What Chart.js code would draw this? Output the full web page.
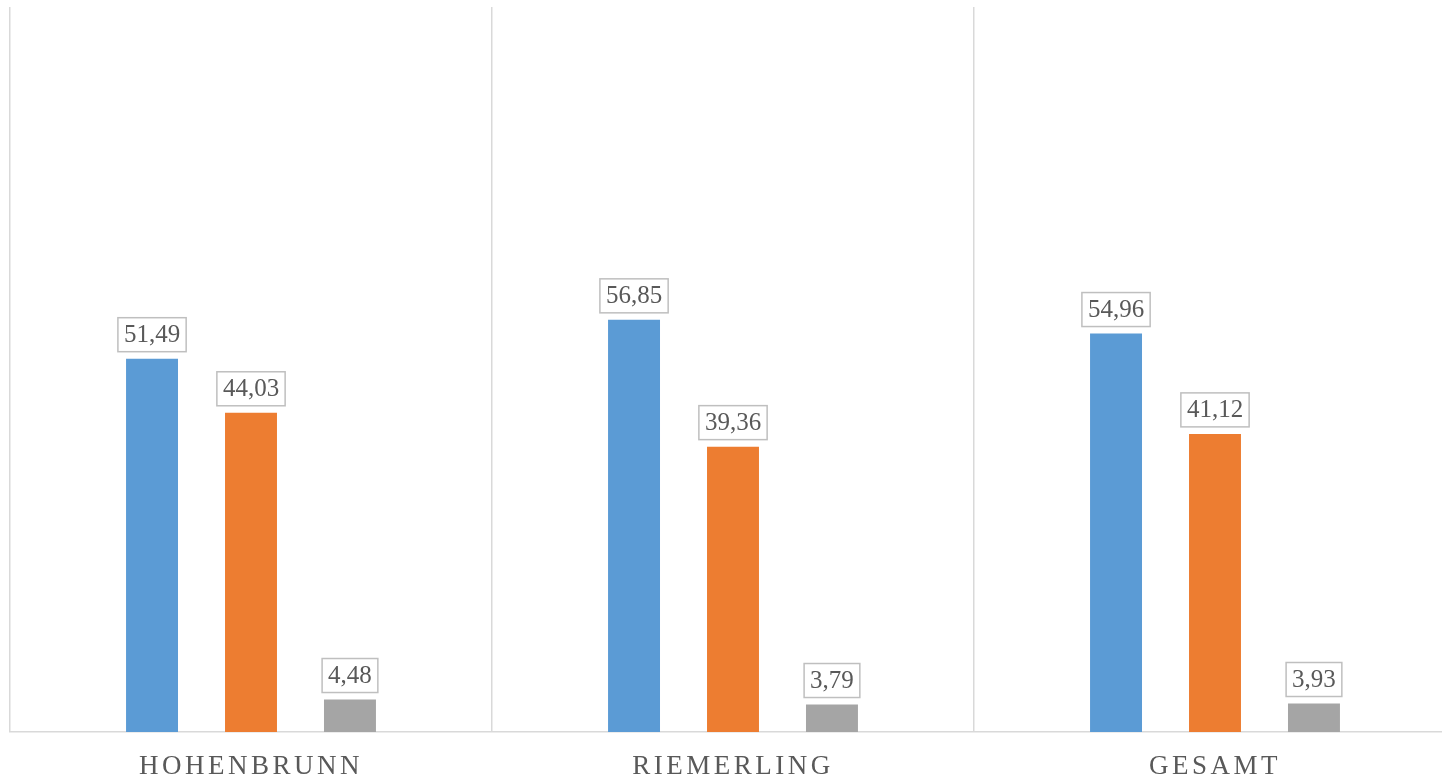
<!DOCTYPE html>
<html lang="de">
<head>
    <meta charset="UTF-8">
    <title>Ortsteile</title>
    <style>
        body {
            margin: 0;
            padding: 0;
            background: #fff;
            overflow: hidden;
        }
        .wrap {
            width: 1460px;
            height: 782px;
        }
    </style>
</head>
<body>
    <div class="wrap">
        <canvas id="barChart" width="1460" height="782"></canvas>
    </div>

    <script src="https://cdn.jsdelivr.net/npm/chart.js"></script>
    <script>
        // data
        const categories = ['HOHENBRUNN', 'RIEMERLING', 'GESAMT'];
        const seriesNames = ['Reihe 1', 'Reihe 2', 'Reihe 3'];
        const blueValues = [51.49, 56.85, 54.96];
        const orangeValues = [44.03, 39.36, 41.12];
        const grayValues = [4.48, 3.79, 3.93];

        const textColor = '#595959';
        const lineColor = '#d9d9d9';
        const serif = '"Liberation Serif", "Times New Roman", serif';

        // boxed value labels above each bar
        const boxLabels = {
            id: 'boxLabels',
            afterDatasetsDraw(chart) {
                const ctx = chart.ctx;
                ctx.save();
                ctx.font = '25px ' + serif;
                ctx.textAlign = 'center';
                ctx.textBaseline = 'middle';
                chart.data.datasets.forEach((ds, i) => {
                    chart.getDatasetMeta(i).data.forEach((bar, j) => {
                        const txt = ds.data[j].toFixed(2).replace('.', ',');
                        const w = ctx.measureText(txt).width + 12;
                        const h = 34;
                        const bottom = bar.y - 7;
                        ctx.fillStyle = '#fff';
                        ctx.fillRect(bar.x - w / 2, bottom - h, w, h);
                        ctx.strokeStyle = '#bfbfbf';
                        ctx.lineWidth = 1.5;
                        ctx.strokeRect(bar.x - w / 2, bottom - h, w, h);
                        ctx.fillStyle = textColor;
                        ctx.fillText(txt, bar.x, bottom - h / 2 + 1);
                    });
                });
                ctx.restore();
            }
        };

        // letter spacing for the category labels only
        const spacedTicks = {
            id: 'spacedTicks',
            beforeDraw(chart) {
                chart.ctx.letterSpacing = '3.5px';
            },
            beforeDatasetsDraw(chart) {
                chart.ctx.letterSpacing = '0px';
            }
        };

        const ctx = document.getElementById('barChart').getContext('2d');
        const chart = new Chart(ctx, {
            type: 'bar',
            data: {
                labels: categories,
                datasets: [
                    { label: seriesNames[0], data: blueValues, backgroundColor: '#5b9bd5' },
                    { label: seriesNames[1], data: orangeValues, backgroundColor: '#ed7d31' },
                    { label: seriesNames[2], data: grayValues, backgroundColor: '#a5a5a5' }
                ]
            },
            options: {
                responsive: false,
                animation: false,
                categoryPercentage: 0.616,
                barPercentage: 0.525,
                layout: {
                    padding: { left: 10, right: 4, top: 7, bottom: 0 }
                },
                plugins: {
                    legend: { display: false },
                    tooltip: { enabled: false }
                },
                scales: {
                    x: {
                        offset: true,
                        afterFit(scale) {
                            scale.height = 50;
                        },
                        grid: {
                            offset: true,
                            color: lineColor,
                            lineWidth: 1.5,
                            drawTicks: false
                        },
                        border: { color: lineColor, width: 1.5 },
                        ticks: {
                            color: textColor,
                            font: { family: serif, size: 27 },
                            padding: 19
                        }
                    },
                    y: {
                        display: false,
                        min: 0,
                        max: 100
                    }
                }
            },
            plugins: [boxLabels, spacedTicks]
        });
    </script>
</body>
</html>
